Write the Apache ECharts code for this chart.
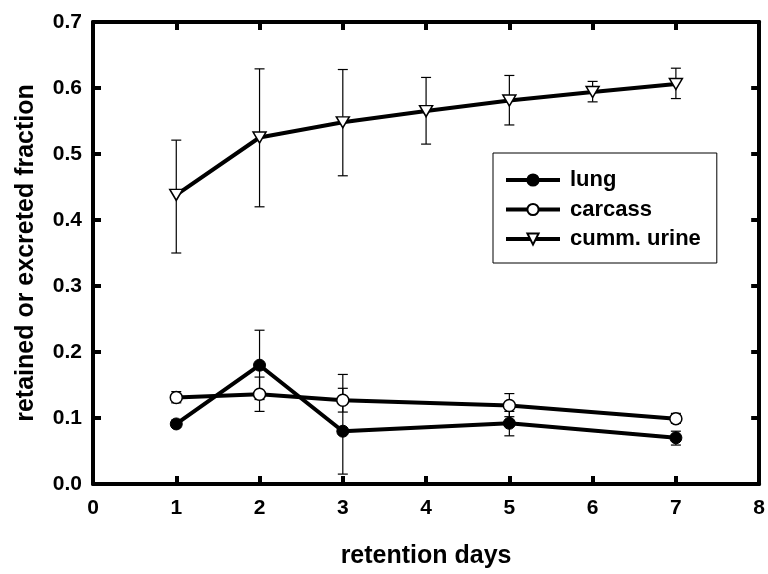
<!DOCTYPE html>
<html>
<head>
<meta charset="utf-8">
<script src="https://cdn.jsdelivr.net/npm/echarts@6/dist/echarts.min.js"></script>
<style>
  html, body { margin: 0; padding: 0; background: #fff; }
  #chart { width: 768px; height: 574px; }
</style>
</head>
<body>
<div id="chart"></div>
<script>
// ---- data ----
var lungDays = [1, 2, 3, 5, 7];
var lung = [0.091, 0.180, 0.080, 0.092, 0.070];
var lungLow = [0.086, 0.128, 0.015, 0.073, 0.059];
var lungHigh = [0.097, 0.233, 0.166, 0.110, 0.080];

var carcassDays = [1, 2, 3, 5, 7];
var carcass = [0.131, 0.136, 0.127, 0.119, 0.099];
var carcassLow = [0.123, 0.110, 0.109, 0.102, 0.092];
var carcassHigh = [0.140, 0.162, 0.145, 0.137, 0.107];

var urineDays = [1, 2, 3, 4, 5, 6, 7];
var urine = [0.438, 0.525, 0.548, 0.565, 0.581, 0.594, 0.606];
var urineLow = [0.350, 0.420, 0.467, 0.515, 0.544, 0.579, 0.584];
var urineHigh = [0.521, 0.629, 0.628, 0.616, 0.619, 0.610, 0.630];

var seriesNames = ['lung', 'carcass', 'cumm. urine'];
var xTitle = 'retention days';
var yTitle = 'retained or excreted fraction';

// ---- build ----
function pts(xs, ys) { return xs.map(function (x, i) { return [x, ys[i]]; }); }
function errs(xs, lo, hi) { return xs.map(function (x, i) { return [x, lo[i], hi[i]]; }); }

var FONT = '"Liberation Sans", Arial, Helvetica, sans-serif';

function errRender(params, api) {
  var x = api.value(0);
  var p1 = api.coord([x, api.value(1)]);
  var p2 = api.coord([x, api.value(2)]);
  var w = 5;
  var st = { stroke: '#000', lineWidth: 1.2 };
  return {
    type: 'group',
    children: [
      { type: 'line', shape: { x1: p1[0], y1: p1[1], x2: p2[0], y2: p2[1] }, style: st },
      { type: 'line', shape: { x1: p1[0] - w, y1: p1[1], x2: p1[0] + w, y2: p1[1] }, style: st },
      { type: 'line', shape: { x1: p2[0] - w, y1: p2[1], x2: p2[0] + w, y2: p2[1] }, style: st }
    ]
  };
}

function errSeries(data) {
  return {
    type: 'custom', renderItem: errRender, data: data,
    encode: { x: 0, y: [1, 2] }, silent: true, z: 1, animation: false
  };
}

var axisLineStyle = { show: true, onZero: false, lineStyle: { color: '#000', width: 4 } };
var tickStyle = { show: true, inside: true, length: 8, lineStyle: { color: '#000', width: 4 } };
var labelStyle = { color: '#000', fontSize: 21, fontWeight: 'bold', fontFamily: FONT };
var nameStyle = { color: '#000', fontSize: 25, fontWeight: 'bold', fontFamily: FONT };

var downTri = 'path://M0,0L12,0L6,10Z';

var chart = echarts.init(document.getElementById('chart'), null, { renderer: 'canvas' });
chart.setOption({
  animation: false,
  backgroundColor: '#fff',
  grid: { left: 93, right: 7, top: 22, bottom: 84, containLabel: false },
  xAxis: [
    {
      type: 'value', min: 0, max: 8, interval: 1, position: 'bottom',
      axisLine: axisLineStyle, axisTick: tickStyle,
      axisLabel: Object.assign({ margin: 14 }, labelStyle),
      splitLine: { show: false },
      name: xTitle, nameLocation: 'middle', nameGap: 60, nameTextStyle: nameStyle
    },
    {
      type: 'value', min: 0, max: 8, interval: 1, position: 'top',
      axisLine: axisLineStyle, axisTick: tickStyle,
      axisLabel: { show: false }, splitLine: { show: false }
    }
  ],
  yAxis: [
    {
      type: 'value', min: 0, max: 0.7, interval: 0.1, position: 'left',
      axisLine: axisLineStyle, axisTick: tickStyle,
      axisLabel: Object.assign({ margin: 11, formatter: function (v) { return v.toFixed(1); } }, labelStyle),
      splitLine: { show: false },
      name: yTitle, nameLocation: 'middle', nameGap: 54, nameTextStyle: nameStyle
    },
    {
      type: 'value', min: 0, max: 0.7, interval: 0.1, position: 'right',
      axisLine: axisLineStyle, axisTick: tickStyle,
      axisLabel: { show: false }, splitLine: { show: false }
    }
  ],
  legend: {
    data: seriesNames,
    orient: 'vertical',
    left: 493, top: 153,
    padding: [16, 16, 13, 11],
    itemWidth: 54, itemHeight: 14, itemGap: 7.5,
    backgroundColor: '#fff',
    borderColor: '#000', borderWidth: 1, borderRadius: 0,
    lineStyle: { width: 4 },
    textStyle: { color: '#000', fontSize: 22, fontWeight: 'bold', fontFamily: FONT, padding: [0, 0, 0, 5] },
    selectedMode: false
  },
  series: [
    errSeries(errs(lungDays, lungLow, lungHigh)),
    errSeries(errs(carcassDays, carcassLow, carcassHigh)),
    errSeries(errs(urineDays, urineLow, urineHigh)),
    {
      name: seriesNames[0], type: 'line', data: pts(lungDays, lung), z: 3,
      symbol: 'circle', symbolSize: 12,
      lineStyle: { color: '#000', width: 4 },
      itemStyle: { color: '#000', borderColor: '#000', borderWidth: 1 }
    },
    {
      name: seriesNames[1], type: 'line', data: pts(carcassDays, carcass), z: 3,
      symbol: 'circle', symbolSize: 12, showAllSymbol: true,
      lineStyle: { color: '#000', width: 4 },
      itemStyle: { color: '#fff', borderColor: '#000', borderWidth: 1.5 }
    },
    {
      name: seriesNames[2], type: 'line', data: pts(urineDays, urine), z: 3,
      symbol: downTri, symbolSize: [13, 11], showAllSymbol: true,
      lineStyle: { color: '#000', width: 4 },
      itemStyle: { color: '#fff', borderColor: '#000', borderWidth: 1.5 }
    }
  ]
});
</script>
</body>
</html>
